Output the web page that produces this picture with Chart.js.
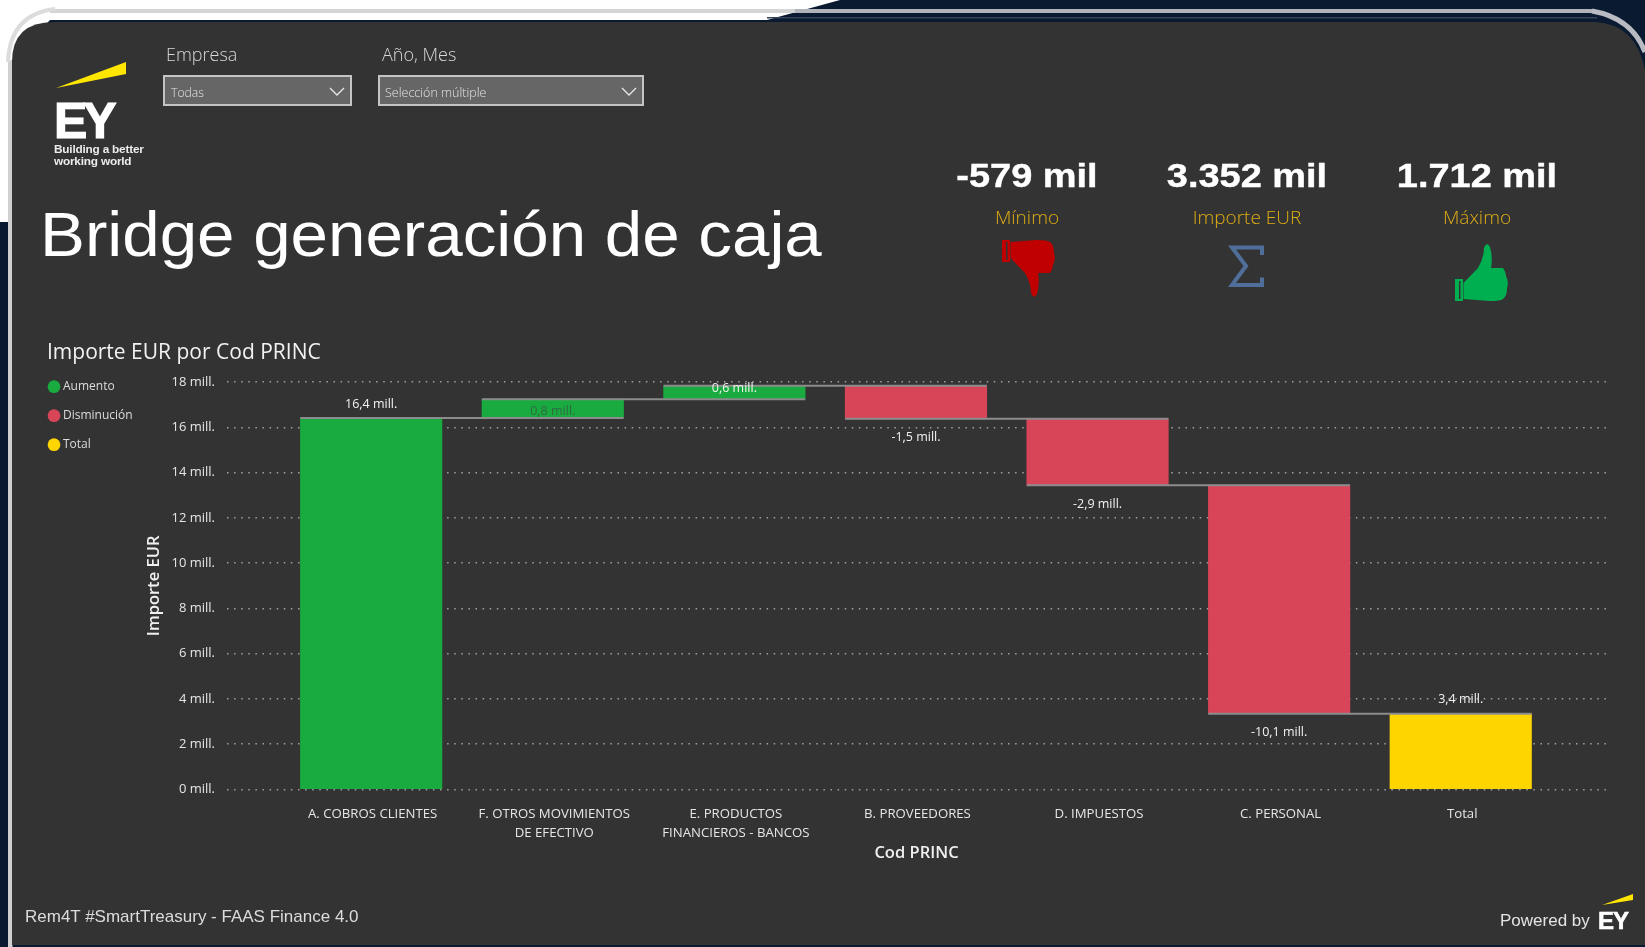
<!DOCTYPE html>
<html lang="es">
<head>
<meta charset="utf-8">
<title>Bridge generación de caja</title>
<script src="https://cdn.jsdelivr.net/npm/chart.js@4"></script>
<style>
html,body{margin:0;padding:0;width:1645px;height:947px;overflow:hidden;background:#0a1a30}
#bg,#fg{position:absolute;left:0;top:0}
#fg{z-index:4;pointer-events:none}
canvas#c{position:absolute;left:0;top:0;z-index:2}
.t{position:absolute;white-space:nowrap;z-index:3;line-height:1;transform-origin:left center}
.seg{font-family:"Open Sans",sans-serif;font-weight:300}
.ar{font-family:"Liberation Sans",Arial,sans-serif}
.kpi{font-family:"Liberation Sans",Arial,sans-serif;font-weight:700;color:#fff;font-size:33px;text-align:center;width:240px;-webkit-text-stroke:.4px #fff;transform:scaleX(1.15);transform-origin:center}
.lab{font-family:"Open Sans",sans-serif;font-weight:300;color:#e0ad14;font-size:19px;text-align:center;width:240px}
.box{position:absolute;background:#666;border:2px solid #c4c4c4;box-sizing:border-box;z-index:3}
</style>
</head>
<body>
<svg id="bg" width="1645" height="947" viewBox="0 0 1645 947">
  <rect width="1645" height="947" fill="#0a1a30"/>
  <polygon points="0,0 840,0 767,20 50,20 12,60 12,222 0,222" fill="#fff"/>
  <rect x="50" y="9" width="1545" height="4" fill="#b0b4ba"/>
  <rect x="50" y="9" width="745" height="4" fill="#d4d4d4"/>
  <rect x="767" y="17" width="830" height="1.5" fill="#35435a"/>
  <rect x="8" y="60" width="4.5" height="887" fill="#d0d0d0"/>
  <path d="M8 62 Q10 14 55 9" fill="none" stroke="#dcdcdc" stroke-width="4"/>
  <path d="M1592 11 Q1632 18 1645 52" fill="none" stroke="#b8bcc2" stroke-width="5"/>
  <path d="M12 62 Q12 22 54 22 L1595 22 Q1636 24 1645 70 L1645 945 L12 945 Z" fill="#333333"/>

  <polygon points="56,88 126,62 126,74" fill="#ffe600"/>
  <polygon points="1602,905 1633,894 1633,900" fill="#ffe600"/>

  <g fill="#c00000" transform="translate(-453,541) scale(1,-1)">
    <rect x="1455" y="279" width="4" height="22"/>
    <rect x="1460.500" y="279" width="2.500" height="22"/>
    <rect x="1455" y="279" width="8" height="2"/>
    <rect x="1455" y="299" width="8" height="2"/>
    <path d="M1463.500 283L1478 268Q1484 258 1484 248Q1487 241 1490 247Q1493 258 1491 268L1503 268Q1506 272 1506 276Q1509 282 1507 288Q1507 296 1503 299Q1500 301 1490 301L1463.500 299Z"/>
  </g>
  <g fill="#00b050">
    <rect x="1455" y="279" width="4" height="22"/>
    <rect x="1460.500" y="279" width="2.500" height="22"/>
    <rect x="1455" y="279" width="8" height="2"/>
    <rect x="1455" y="299" width="8" height="2"/>
    <path d="M1463.500 283L1478 268Q1484 258 1484 248Q1487 241 1490 247Q1493 258 1491 268L1503 268Q1506 272 1506 276Q1509 282 1507 288Q1507 296 1503 299Q1500 301 1490 301L1463.500 299Z"/>
  </g>
  <path d="M1262 255V247.500H1232L1246 266L1232 285H1262V277.500" fill="none" stroke="#4f6f9a" stroke-width="4"/>
</svg>

<div class="t seg" style="left:166px;top:45px;font-size:18px;color:#d8d8d8">Empresa</div>
<div class="t seg" style="left:382px;top:45px;font-size:18px;color:#d8d8d8">Año, Mes</div>
<div class="box" style="left:163px;top:75px;width:189px;height:31px"></div>
<div class="box" style="left:378px;top:75px;width:266px;height:31px"></div>
<div class="t seg" style="left:171px;top:87px;font-size:12.2px;color:#e4e4e4">Todas</div>
<div class="t seg" style="left:385px;top:87px;font-size:12.5px;color:#e4e4e4">Selección múltiple</div>

<div class="t ar" style="left:54px;top:96px;font-size:50px;font-weight:700;color:#fff;letter-spacing:-4px;-webkit-text-stroke:1.2px #fff">EY</div>
<div class="t ar" style="left:54px;top:144px;font-size:11.8px;font-weight:700;color:#ececec;line-height:11.5px;letter-spacing:-.2px">Building a better<br>working world</div>

<div class="t ar" style="left:40px;top:203px;font-size:63px;color:#fff;transform:scaleX(1.068)">Bridge generación de caja</div>

<div class="t kpi" style="left:907px;top:159px">-579 mil</div>
<div class="t kpi" style="left:1127px;top:159px">3.352 mil</div>
<div class="t kpi" style="left:1357px;top:159px">1.712 mil</div>
<div class="t lab" style="left:907px;top:208px">Mínimo</div>
<div class="t lab" style="left:1127px;top:208px">Importe EUR</div>
<div class="t lab" style="left:1357px;top:208px">Máximo</div>

<div class="t ar" style="left:25px;top:908px;font-size:17px;color:#dcdcdc">Rem4T #SmartTreasury - FAAS Finance 4.0</div>
<div class="t ar" style="left:1500px;top:912px;font-size:17px;color:#e4e4e4">Powered by</div>
<div class="t ar" style="left:1598px;top:909px;font-size:24px;font-weight:700;color:#fff;letter-spacing:-1px;-webkit-text-stroke:.6px #fff">EY</div>

<svg id="fg" width="1645" height="947" viewBox="0 0 1645 947">
  <path d="M330 88l7 7 7-7" fill="none" stroke="#e8e8e8" stroke-width="1.3"/>
  <path d="M622 88l7 7 7-7" fill="none" stroke="#e8e8e8" stroke-width="1.3"/>
</svg>

<canvas id="c" width="1645" height="947"></canvas>

<script>
const categories = [
  'A. COBROS CLIENTES',
  ['F. OTROS MOVIMIENTOS', 'DE EFECTIVO'],
  ['E. PRODUCTOS', 'FINANCIEROS - BANCOS'],
  'B. PROVEEDORES',
  'D. IMPUESTOS',
  'C. PERSONAL',
  'Total'
];
const increases = [16.42, 0.83, 0.59, null, null, null, null];
const decreases = [null, null, null, -1.46, -2.93, -10.1, null];
const totals    = [null, null, null, null, null, null, 3.352];
const yTicks    = [0, 2, 4, 6, 8, 10, 12, 14, 16, 18];

const GREEN = '#1aab40', RED = '#d84558', YELLOW = '#ffd500';
const FONT = '"Open Sans", sans-serif';

/* running level after each step */
const levels = [];
categories.forEach((_, i) => {
  const prev = i ? levels[i - 1] : 0;
  levels.push(totals[i] !== null ? totals[i] : prev + (increases[i] ?? decreases[i]));
});
const startOf = i => (i === 0 || totals[i] !== null) ? 0 : levels[i - 1];
const floating = src => src.map((v, i) => v === null ? null : { x: i, y: [startOf(i), levels[i]] }).filter(Boolean);

/* horizontal connector from a bar's left edge to the next bar's right edge */
const HALF = 0.39;
const connectors = [];
levels.slice(0, -1).forEach((lv, i) => {
  connectors.push({ x: i - HALF, y: lv }, { x: i + 1 + HALF, y: lv }, { x: i + 1 + HALF, y: null });
});

const labelPlace = [
  { edge: 'top', dy: -14, color: '#f2f2f2' },
  { edge: 'bottom', dy: -7, color: '#2e6b42' },
  { edge: 'top', dy: 3, color: '#eef5ee' },
  { edge: 'bottom', dy: 19, color: '#f2f2f2' },
  { edge: 'bottom', dy: 19, color: '#f2f2f2' },
  { edge: 'bottom', dy: 19, color: '#f2f2f2' },
  { edge: 'top', dy: -14, color: '#f2f2f2' }
];
const fmt = v => v.toFixed(1).replace('.', ',') + ' mill.';

const dataLabels = {
  id: 'dataLabels',
  afterLayout(chart) {
    chart.legend.top = chart.scales.y.top - 18.5;
    chart.legend.left = 34;
  },
  afterDatasetsDraw(chart) {
    const { ctx, scales: { x, y } } = chart;
    ctx.save();
    ctx.font = '12.5px ' + FONT;
    ctx.textAlign = 'center';
    ctx.textBaseline = 'middle';
    categories.forEach((_, i) => {
      const v = increases[i] ?? decreases[i] ?? totals[i];
      const p = labelPlace[i];
      const hi = Math.max(startOf(i), levels[i]), lo = Math.min(startOf(i), levels[i]);
      const py = y.getPixelForValue(p.edge === 'top' ? hi : lo) + p.dy;
      ctx.fillStyle = p.color;
      ctx.fillText(fmt(v), x.getPixelForValue(i), py);
    });
    ctx.restore();
  }
};

const barOpts = { grouped: false, barThickness: 141.5, borderWidth: 0, order: 2 };

new Chart(document.getElementById('c'), {
  type: 'bar',
  data: {
    datasets: [
      { label: 'Aumento', data: floating(increases), backgroundColor: GREEN, ...barOpts },
      { label: 'Disminución', data: floating(decreases), backgroundColor: RED, ...barOpts },
      { label: 'Total', data: floating(totals), backgroundColor: YELLOW, ...barOpts },
      { type: 'line', label: 'connector', data: connectors, borderColor: '#8c8c8c', borderWidth: 2,
        pointRadius: 0, spanGaps: false, tension: 0, order: 1 }
    ]
  },
  plugins: [dataLabels],
  options: {
    responsive: false,
    animation: false,
    layout: { padding: { left: 47, right: 39, top: 0, bottom: 78.5 } },
    plugins: {
      tooltip: { enabled: false },
      title: {
        display: true, text: 'Importe EUR por Cod PRINC', align: 'start', color: '#f2f2f2',
        font: { family: FONT, size: 21, weight: 400 }, padding: { top: 340, bottom: 17 }
      },
      legend: {
        position: 'left', align: 'start', fullSize: false, maxWidth: 97,
        labels: {
          usePointStyle: true, pointStyle: 'circle', boxWidth: 6, boxHeight: 9, padding: 17,
          color: '#dcdcdc', font: { family: FONT, size: 12 },
          filter: item => item.text !== 'connector'
        }
      }
    },
    scales: {
      x: {
        type: 'linear', offset: false, min: -0.794, max: 6.8,
        afterBuildTicks: s => { s.ticks = categories.map((_, i) => ({ value: i })); },
        afterFit: s => { s.height = 79; },
        grid: { display: false }, border: { display: false },
        ticks: {
          autoSkip: false, maxRotation: 0, padding: 8, labelOffset: 1.5, color: '#e6e6e6', font: { family: FONT, size: 13.2, lineHeight: 1.4 },
          callback: v => categories[v]
        },
        title: { display: true, text: 'Cod PRINC', color: '#f0f0f0', font: { family: FONT, size: 16.5, weight: 600 }, padding: { top: 4, bottom: 5 } }
      },
      y: {
        min: 0, max: 18,
        afterBuildTicks: s => { s.ticks = yTicks.map(value => ({ value })); },
        afterFit: s => { s.width = 227 - 47 - s.chart.legend.width; },
        border: { display: false, dash: [1.5, 5.6] },
        grid: { color: '#a0a0a0', lineWidth: 1.5, drawTicks: false },
        ticks: { padding: 12, color: '#e6e6e6', font: { family: FONT, size: 13 }, callback: v => v + ' mill.' },
        title: { display: true, text: 'Importe EUR', color: '#f0f0f0', font: { family: FONT, size: 16.5, weight: 600 }, padding: { top: 0, bottom: 6 } }
      }
    }
  }
});
</script>
</body>
</html>
